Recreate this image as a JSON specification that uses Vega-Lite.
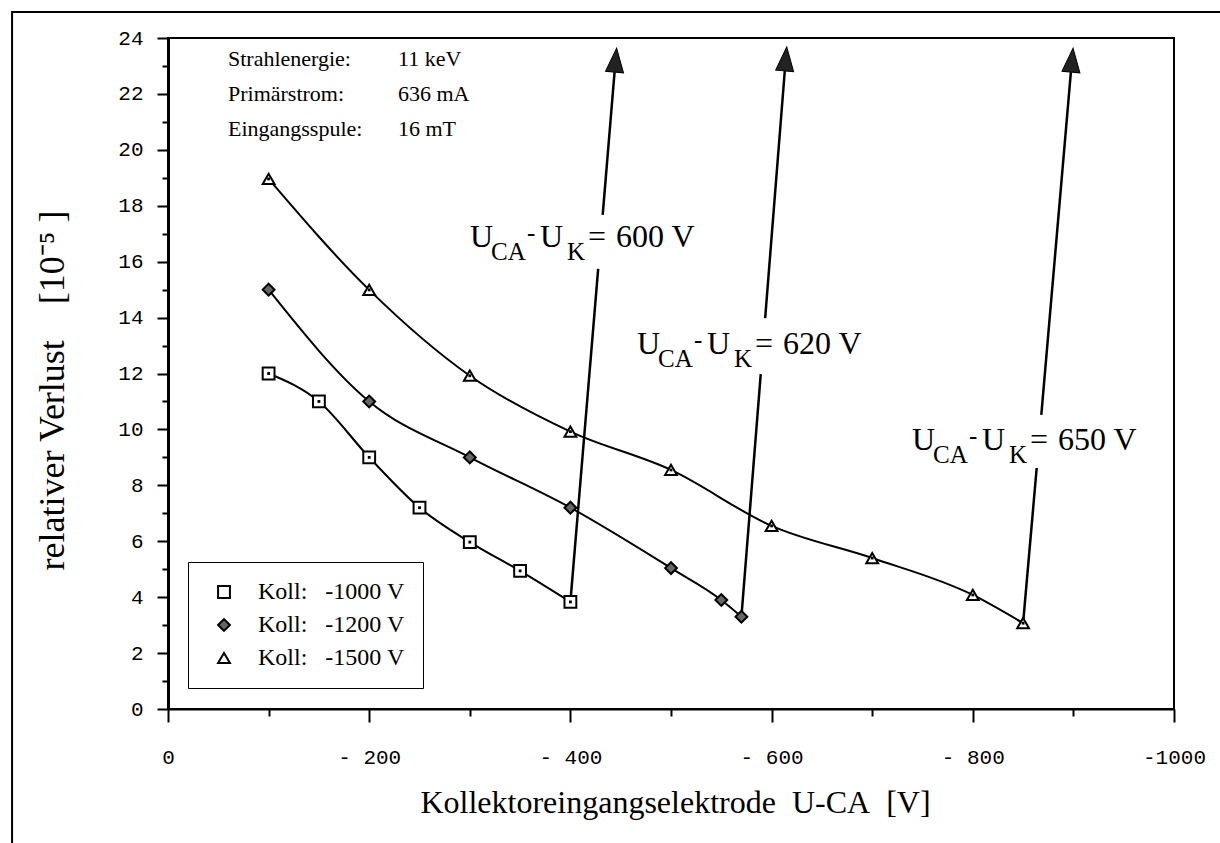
{
  "$schema": "https://vega.github.io/schema/vega-lite/v6.json",
  "width": 1006,
  "height": 671,
  "autosize": {"type": "none"},
  "padding": {"left": 168, "top": 38, "right": 46, "bottom": 134},
  "background": "white",
  "config": {
    "view": {"stroke": "black", "strokeWidth": 2},
    "font": "Liberation Serif"
  },
  "datasets": {
    "pts": [
      {"series": "-1000 V", "x": -100, "y": 12.0},
      {"series": "-1000 V", "x": -150, "y": 11.0},
      {"series": "-1000 V", "x": -200, "y": 9.0},
      {"series": "-1000 V", "x": -250, "y": 7.2},
      {"series": "-1000 V", "x": -300, "y": 5.97},
      {"series": "-1000 V", "x": -350, "y": 4.94},
      {"series": "-1000 V", "x": -400, "y": 3.83},
      {"series": "-1200 V", "x": -100, "y": 15.0},
      {"series": "-1200 V", "x": -200, "y": 11.0},
      {"series": "-1200 V", "x": -300, "y": 9.0},
      {"series": "-1200 V", "x": -400, "y": 7.2},
      {"series": "-1200 V", "x": -500, "y": 5.04},
      {"series": "-1200 V", "x": -550, "y": 3.9},
      {"series": "-1200 V", "x": -570, "y": 3.3},
      {"series": "-1500 V", "x": -100, "y": 18.96},
      {"series": "-1500 V", "x": -200, "y": 14.99},
      {"series": "-1500 V", "x": -300, "y": 11.92},
      {"series": "-1500 V", "x": -400, "y": 9.92},
      {"series": "-1500 V", "x": -500, "y": 8.55},
      {"series": "-1500 V", "x": -600, "y": 6.55},
      {"series": "-1500 V", "x": -700, "y": 5.4},
      {"series": "-1500 V", "x": -800, "y": 4.08},
      {"series": "-1500 V", "x": -850, "y": 3.07}
    ],
    "arrows": [
      {"seg": "1a", "x": -400, "y": 3.83},
      {"seg": "1a", "x": -427.6, "y": 15.74},
      {"seg": "1b", "x": -432.1, "y": 17.67},
      {"seg": "1b", "x": -443.9, "y": 22.78},
      {"seg": "2a", "x": -570, "y": 3.3},
      {"seg": "2a", "x": -589.2, "y": 11.98},
      {"seg": "2b", "x": -593.6, "y": 13.98},
      {"seg": "2b", "x": -613.1, "y": 22.82},
      {"seg": "3a", "x": -850, "y": 3.07},
      {"seg": "3a", "x": -863.5, "y": 8.62},
      {"seg": "3b", "x": -868.1, "y": 10.52},
      {"seg": "3b", "x": -897.5, "y": 22.78}
    ],
    "heads": [
      {"x": -444.9, "y": 23.21},
      {"x": -614.0, "y": 23.25},
      {"x": -898.6, "y": 23.21}
    ],
    "uk": [
      {"x": -300.2, "y": 16.52, "v": "600 V"},
      {"x": -466.2, "y": 12.7, "v": "620 V"},
      {"x": -739.6, "y": 9.26, "v": "650 V"}
    ],
    "notes": [
      {"x": -59.6, "y": 23.0, "a": "Strahlenergie:", "b": "11 keV"},
      {"x": -59.6, "y": 21.74, "a": "Primärstrom:", "b": "636 mA"},
      {"x": -59.6, "y": 20.49, "a": "Eingangsspule:", "b": "\u00a016 mT"}
    ],
    "frame": [
      {"x": 155, "x2": -1060, "y": 24.93, "y2": -6}
    ]
  },
  "encoding": {
    "x": {
      "field": "x",
      "type": "quantitative",
      "scale": {"domain": [-1000, 0], "reverse": true, "nice": false, "zero": false},
      "axis": {
        "values": [-1000, -900, -800, -700, -600, -500, -400, -300, -200, -100, 0],
        "grid": false,
        "labelExpr": "datum.value % 200 === 0 ? (datum.value === 0 ? '0' : (datum.value === -1000 ? '-1000' : '- ' + abs(datum.value))) : ''",
        "labelFont": "Liberation Mono",
        "labelFontSize": 21,
        "labelColor": "black",
        "labelPadding": 24,
        "labelFlush": false,
        "labelOverlap": false,
        "tickSize": {"condition": {"test": "datum.value % 200 === 0", "value": 13}, "value": 7},
        "tickColor": "black",
        "tickWidth": 2,
        "domainColor": "black",
        "domainWidth": 2,
        "title": "Kollektoreingangselektrode\u00a0 U-CA\u00a0 [V]",
        "titleFont": "Liberation Serif",
        "titleFontSize": 32,
        "titleFontWeight": "normal",
        "titleColor": "black",
        "titleX": 507,
        "titleY": 103,
        "titleAlign": "center",
        "titleBaseline": "alphabetic"
      }
    },
    "y": {
      "field": "y",
      "type": "quantitative",
      "scale": {"domain": [0, 24], "nice": false, "zero": false},
      "axis": {
        "values": [0, 1, 2, 3, 4, 5, 6, 7, 8, 9, 10, 11, 12, 13, 14, 15, 16, 17, 18, 19, 20, 21, 22, 23, 24],
        "grid": false,
        "labelExpr": "datum.value % 2 === 0 ? datum.label : ''",
        "labelFont": "Liberation Mono",
        "labelFontSize": 21,
        "labelColor": "black",
        "labelPadding": 14,
        "labelFlush": false,
        "labelOverlap": false,
        "tickSize": {"condition": {"test": "datum.value % 2 === 0", "value": 11}, "value": 6},
        "tickColor": "black",
        "tickWidth": 2,
        "domainColor": "black",
        "domainWidth": 3,
        "title": "relativer Verlust\u00a0\u00a0\u00a0\u00a0[10\u207b\u2075 ]",
        "titleFont": "Liberation Serif",
        "titleFontSize": 36,
        "titleFontWeight": "normal",
        "titleColor": "black",
        "titleX": -116,
        "titleY": 352,
        "titleAngle": -90,
        "titleAlign": "center",
        "titleBaseline": "middle"
      }
    }
  },
  "layer": [
    {
      "data": {"name": "frame"},
      "mark": {"type": "rect", "fill": null, "fillOpacity": 0, "stroke": "black", "strokeWidth": 2},
      "encoding": {
        "x2": {"field": "x2"},
        "y2": {"field": "y2"}
      }
    },
    {
      "data": {"name": "pts"},
      "mark": {"type": "line", "stroke": "black", "strokeWidth": 2, "interpolate": "monotone"},
      "encoding": {
        "detail": {"field": "series"},
        "order": {"field": "x", "sort": "descending"}
      }
    },
    {
      "data": {"name": "arrows"},
      "mark": {"type": "line", "stroke": "black", "strokeWidth": 2.5},
      "encoding": {
        "detail": {"field": "seg"}
      }
    },
    {
      "data": {"name": "heads"},
      "mark": {"type": "point", "shape": "M0,-1L-0.75,1L0.75,1Z", "size": 576, "filled": true, "fill": "#222222", "stroke": "black", "strokeWidth": 1, "angle": 5, "opacity": 1}
    },
    {
      "data": {"name": "pts"},
      "mark": {"type": "point", "filled": true, "strokeWidth": 2, "size": 140, "opacity": 1},
      "encoding": {
        "shape": {
          "field": "series",
          "type": "nominal",
          "scale": {"domain": ["-1000 V", "-1200 V", "-1500 V"], "range": ["square", "diamond", "triangle-up"]},
          "legend": {
            "orient": "none",
            "legendX": 20,
            "legendY": 524,
            "title": null,
            "labelFont": "Liberation Serif",
            "labelFontSize": 24,
            "labelColor": "black",
            "labelExpr": "'Koll:\u00a0\u00a0\u00a0' + datum.label",
            "strokeColor": "black",
            "fillColor": "white",
            "padding": 18,
            "symbolOffset": 6,
            "labelOffset": 22,
            "rowPadding": 9,
            "symbolSize": 140,
            "symbolStrokeWidth": 2
          }
        },
        "fill": {
          "field": "series",
          "type": "nominal",
          "scale": {"domain": ["-1000 V", "-1200 V", "-1500 V"], "range": ["white", "#666666", "white"]}
        },
        "stroke": {
          "field": "series",
          "type": "nominal",
          "scale": {"domain": ["-1000 V", "-1200 V", "-1500 V"], "range": ["black", "black", "black"]}
        }
      }
    },
    {
      "data": {"name": "pts"},
      "transform": [{"filter": "datum.series !== '-1200 V'"}],
      "mark": {"type": "point", "shape": "square", "filled": true, "fill": "black", "strokeWidth": 0, "size": 8, "opacity": 1}
    },
    {
      "data": {"name": "uk"},
      "mark": {"type": "text", "text": "U", "align": "left", "baseline": "alphabetic", "font": "Liberation Serif", "fontSize": 32, "fill": "black"}
    },
    {
      "data": {"name": "uk"},
      "mark": {"type": "text", "text": "CA", "align": "left", "baseline": "alphabetic", "font": "Liberation Serif", "fontSize": 25, "dx": 21, "dy": 13, "fill": "black"}
    },
    {
      "data": {"name": "uk"},
      "mark": {"type": "text", "text": "-", "align": "left", "baseline": "alphabetic", "font": "Liberation Serif", "fontSize": 25, "dx": 57, "dy": -6, "fill": "black"}
    },
    {
      "data": {"name": "uk"},
      "mark": {"type": "text", "text": "U", "align": "left", "baseline": "alphabetic", "font": "Liberation Serif", "fontSize": 32, "dx": 70, "fill": "black"}
    },
    {
      "data": {"name": "uk"},
      "mark": {"type": "text", "text": "K", "align": "left", "baseline": "alphabetic", "font": "Liberation Serif", "fontSize": 25, "dx": 97, "dy": 13, "fill": "black"}
    },
    {
      "data": {"name": "uk"},
      "mark": {"type": "text", "text": "=", "align": "left", "baseline": "alphabetic", "font": "Liberation Serif", "fontSize": 32, "dx": 118, "fill": "black"}
    },
    {
      "data": {"name": "uk"},
      "mark": {"type": "text", "align": "left", "baseline": "alphabetic", "font": "Liberation Serif", "fontSize": 32, "dx": 146, "fill": "black"},
      "encoding": {"text": {"field": "v"}}
    },
    {
      "data": {"name": "notes"},
      "mark": {"type": "text", "align": "left", "baseline": "alphabetic", "font": "Liberation Serif", "fontSize": 22, "fill": "black"},
      "encoding": {"text": {"field": "a"}}
    },
    {
      "data": {"name": "notes"},
      "mark": {"type": "text", "align": "left", "baseline": "alphabetic", "font": "Liberation Serif", "fontSize": 22, "dx": 170, "fill": "black"},
      "encoding": {"text": {"field": "b"}}
    }
  ]
}
